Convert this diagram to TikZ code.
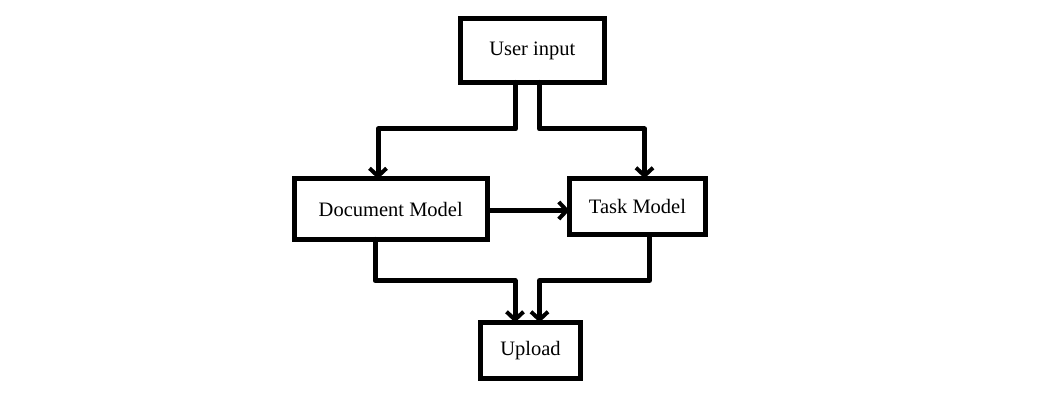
\documentclass[tikz,border=0pt]{standalone}
\usepackage{fontspec}
\setmainfont{Liberation Serif}
\usepackage{tikz}
\usetikzlibrary{arrows.meta, positioning}
\usepackage{xcolor}
\tikzset{%
  model_block/.style={%
    draw=black,%
    rectangle,%
    line width=5pt,%
    inner sep=0pt,%
    outer sep=0pt,%
    font={\fontsize{20.5}{24}\selectfont},%
    align=center,%
  },
  flow_path/.style={%
    color=black,%
    line width=5pt,%
    line join=round,%
    line cap=round,%
  },
  arrow/.style={-{Straight Barb[length=8pt, width=17pt, line width=4pt]}},
}
\begin{document}
\begin{tikzpicture}[x=1pt, y=1pt]
    \useasboundingbox (0,0) rectangle (1061,409);
    \node [model_block, minimum width=143.5, minimum height=64]
      (User) at (532.25,358.5) {User input};
    \node [model_block, minimum width=193.5, minimum height=60.5,
      below = 96.5 of User, xshift=-141.5] (DocModel) {Document Model};
    \node [model_block, minimum width=136, minimum height=56.5,
      right = 82 of DocModel, yshift=2.5] (TaskModel) {Task Model};
    \node [model_block, minimum width=100, minimum height=56,
      below = 240 of User, xshift=-1.75] (Upload) {Upload};

    \draw [arrow, flow_path]
      ([xshift=-16.75]User.south)
      --
      ++(0,-46.5)
      -|
      ([xshift=-12.75]DocModel.north);
    \draw [arrow, flow_path]
      ([xshift=7.25]User.south)
      --
      ++(0,-46.5)
      -|
      ([xshift=7]TaskModel.north);
    \draw [arrow, flow_path]
      ([yshift=-1.25]DocModel.east)
      --
      ([yshift=-3.75]TaskModel.west);
    \draw [arrow, flow_path]
      ([xshift=-15.75]DocModel.south)
      --
      ++(0,-41)
      -|
      ([xshift=-15.5]Upload.north);
    \draw [arrow, flow_path]
      ([xshift=12]TaskModel.south)
      --
      ++(0,-45.5)
      -|
      ([xshift=9]Upload.north);
  \end{tikzpicture}
\end{document}
